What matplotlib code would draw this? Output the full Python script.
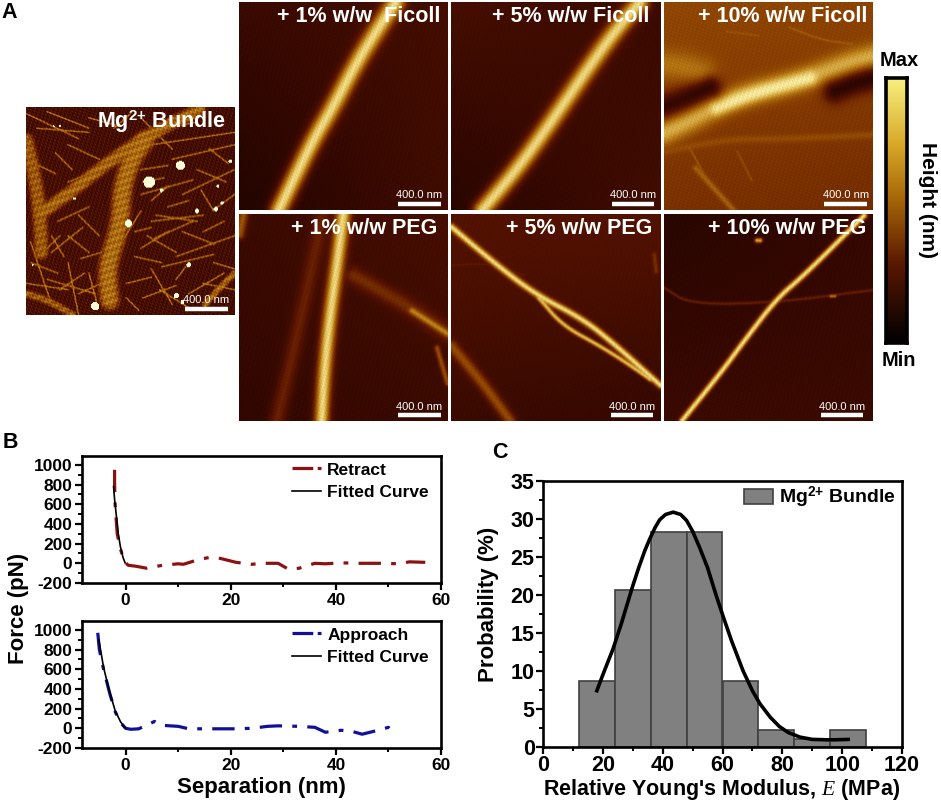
import numpy as np
import matplotlib
matplotlib.use("Agg")
import matplotlib.pyplot as plt
from matplotlib.colors import LinearSegmentedColormap
from matplotlib.lines import Line2D
from matplotlib.patches import Patch

plt.rcParams['font.family'] = ['Liberation Sans', 'DejaVu Sans']
plt.rcParams['font.weight'] = 'bold'
plt.rcParams['axes.unicode_minus'] = False
plt.rcParams['mathtext.fontset'] = 'custom'
plt.rcParams['mathtext.bf'] = 'Liberation Sans:bold'
plt.rcParams['mathtext.rm'] = 'Liberation Sans:bold'
plt.rcParams['mathtext.it'] = 'Liberation Serif:italic:normal'

W, H = 941, 802

# force curves
retract_x = [-2.1, -2.1, -2.0, -1.6, -1.0, -0.3, 0.5, 2, 4, 7, 10, 11, 14, 16, 18, 21, 24, 26, 29, 31, 33, 36, 38, 41, 44, 46, 49, 52, 54, 57]
retract_y = [950, 800, 600, 300, 150, 20, -20, -30, -50, -20, -5, -10, 40, 60, 50, 10, -10, 0, 0, -60, -50, 0, -5, 5, 0, 0, 0, -5, 15, 10]
retract_fit_x = [-2.3, -2.1, -1.8, -1.4, -1.0, -0.5, -0.1]
retract_fit_y = [780, 650, 500, 300, 170, 60, 5]
approach_x = [-5.3, -5.0, -4.2, -3.0, -2.0, -1.0, 0, 1, 2.5, 5.5, 7, 10, 12, 15, 18, 21, 24, 27, 29, 33, 36, 38, 41, 43, 45, 48, 50, 50.5]
approach_y = [970, 800, 600, 350, 170, 60, 0, -10, -5, 70, 30, 20, -5, -5, -5, -5, 0, 20, 25, 20, 10, -40, -20, -30, -60, -20, 10, -20]
approach_fit_x = [-5.1, -4.2, -3.2, -2.0, -1.0, -0.3, 0]
approach_fit_y = [900, 620, 400, 180, 70, 15, 0]

# histogram, panel C
bin_left = [12, 24, 36, 48, 60, 72, 84, 96]
bin_prob = [8.7, 20.7, 28.3, 28.3, 8.7, 2.2, 1.1, 2.2]
curve_x = [18, 20, 23.4, 26, 28, 30, 32, 34, 35.7, 37.5, 39, 41, 43.5, 46, 48, 50, 52.4, 55, 58, 60.2, 63, 66.9, 70, 72.5, 76, 79, 82, 85.9, 90, 94.8, 98, 102]
curve_y = [7.4, 9.5, 12.9, 16, 18.6, 21.2, 23.6, 25.8, 27.4, 28.9, 29.9, 30.6, 30.9, 30.6, 29.8, 28.4, 26.2, 23.6, 19.8, 17.2, 14, 10, 7.4, 5.7, 3.9, 2.7, 1.9, 1.3, 1.0, 0.95, 0.95, 1.0]

# AFM panels: titles
panel_titles = ["+ 1% w/w  Ficoll", "+ 5% w/w Ficoll", "+ 10% w/w Ficoll", "+ 1% w/w PEG", "+ 5% w/w PEG", "+ 10% w/w PEG"]

# fibres as (points from top left of panel, sigma, height)
ficoll1_fibres = [([(.19, 1), (.26, .856), (.355, .664), (.45, .504), (.56, .296), (.66, .136), (.75, 0)], .043, .88)]
ficoll5_fibres = [([(.15, 1), (.31, .81), (.44, .63), (.55, .47), (.68, .28), (.79, .13), (.9, 0)], .043, .87)]
ficoll10_fibres = [
    ([(0, .63), (.125, .57), (.25, .50), (.41, .44), (.57, .40), (.73, .35), (.89, .29), (1, .26)], .055, .76),
    ([(.25, .51), (.41, .445), (.57, .40), (.7, .365)], .032, .92),
    ([(0, .3), (.1, .31), (.18, .34)], .07, .6),
    ([(.15, .80), (.24, .90), (.33, 1)], .014, .54),
    ([(.0, .72), (.3, .66), (.55, .66), (1, .64)], .018, .48),
    ([(.6, .12), (.75, .18), (.9, .2)], .006, .52),
    ([(.3, .14), (.45, .16)], .006, .5),
    ([(.12, .7), (.2, .85)], .006, .5),
    ([(.35, .72), (.42, .86)], .006, .47),
]
ficoll10_dark = [([(0, .5), (.08, .47), (.22, .41)], .055, .18), ([(.82, .43), (.92, .39), (1, .37)], .055, .16)]
peg1_fibres = [
    ([(.395, 1), (.41, .74), (.435, .5), (.467, .26), (.5, 0)], .034, .87),
    ([(.18, 1), (.26, .66), (.37, .16), (.4, 0)], .038, .34),
    ([(.55, .30), (.83, .46), (1, .58)], .04, .38),
    ([(.83, .47), (1, .58)], .014, .64),
    ([(.95, .65), (1, .82)], .014, .48),
    ([(.0, .1), (.02, 0)], .025, .5),
]
peg5_fibres = [
    ([(0, .065), (.2, .235), (.4, .39), (.63, .51), (.79, .64), (1, .83)], .016, .88),
    ([(.42, .41), (.53, .54), (.71, .64), (.82, .71), (.95, .80)], .011, .8),
    ([(0, .64), (.15, .82), (.28, 1)], .028, .48),
    ([(0, .25), (.2, .24), (.35, .3)], .004, .32),
    ([(.97, .2), (.98, .28)], .012, .38),
]
peg10_fibres = [
    ([(.085, 1), (.27, .77), (.38, .62), (.54, .41), (.67, .30), (.96, .01)], .015, .88),
    ([(0, .36), (.125, .44), (.54, .43), (1, .37)], .007, .34),
    ([(.445, .13), (.46, .13)], .012, .72),
    ([(.80, .40), (.82, .40)], .007, .6),
]
bundle_thick = [
    ([(.40, .93), (.385, .77), (.45, .575), (.46, .38), (.51, .24), (.57, .16)], .048, .58),
    ([(.07, .51), (.225, .40), (.385, .27), (.575, .14), (.83, .01)], .032, .56),
    ([(0, .16), (.05, .38), (.07, .61), (.07, .7)], .035, .52),
    ([(.86, .95), (.93, .87), (1, .8)], .016, .56),
    ([(0, .9), (.1, .93), (.22, 1)], .018, .52),
]
bundle_thin = [
    ((.2, .75), (.25, 1)), ((.12, .7), (.27, .58)), ((.25, .52), (.35, .62)), ((.55, .42), (.8, .35)),
    ((.6, .55), (.85, .52)), ((.62, .52), (.82, .55)), ((.72, .72), (1, .62)), ((.62, .63), (.8, .55)),
    ((.65, .77), (.9, .71)), ((.72, .83), (.78, .75)), ((.55, .68), (.68, .6)), ((.1, .83), (.33, .9)),
    ((.2, .62), (.3, .7)), ((.0, .03), (.25, .15)), ((.1, .02), (.3, .1)), ((.55, .05), (.7, .2)),
    ((.6, .18), (1, .12)), ((.7, .25), (1, .18)), ((.75, .42), (1, .3)), ((.05, .1), (.3, .12)),
    ((.2, .18), (.35, .25)), ((.02, .75), (.15, .8)), ((.0, .85), (.2, .88)), ((.48, .85), (.6, .82)),
    ((.52, .72), (.65, .75)), ((.85, .85), (1, .88)), ((.55, .3), (.68, .28)), ((.56, .92), (.72, .86)),
    ((.18, .4), (.1, .48)), ((.3, .8), (.34, .95)), ((.92, .48), (1, .42)), ((.44, .68), (.55, .5)),
    ((.15, .55), (.3, .48)), ((.58, .62), (.72, .7)), ((.6, .45), (.68, .38)), ((.75, .6), (.9, .66)),
    ((.82, .3), (.96, .36)), ((.02, .65), (.12, .95)), ((.16, .88), (.28, .8)), ((.48, .92), (.54, .98)),
    ((.6, .78), (.7, .95)), ((.85, .6), (.95, .55)), ((.3, .05), (.45, .09)), ((.42, .1), (.5, .03)),
    ((.14, .22), (.22, .3)), ((.3, .32), (.2, .36)), ((.9, .75), (1, .78)), ((.78, .9), (.95, .8)),
    ((.56, .36), (.66, .34)), ((.68, .48), (.78, .45)), ((.12, .62), (.18, .72)), ((.25, .9), (.38, .84)),
    ((.52, .6), (.6, .58)), ((.88, .2), (.97, .27)), ((.64, .88), (.8, .98)), ((.14, .32), (.04, .27)),
    ((.68, .1), (.82, .07)), ((.16, .62), (.06, .72)), ((.26, .73), (.36, .7)), ((.84, .4), (.9, .5)),
]
bundle_dots = [(.74, .28), (.59, .36), (.65, .4), (.49, .56), (.33, .96), (.91, .06), (.13, .09), (.16, .09), (.82, .5),
               (.91, .49), (.94, .46), (.78, .76), (.72, .91), (.75, .94), (.03, .76), (.23, .44), (.98, .26), (.92, .38)]
bundle_dot_size = [.022, .028, .009, .018, .02, .005, .005, .005, .011, .011, .008, .011, .013, .009, .005, .007, .009, .007]

# colours picked from the height scale
afm_stops = [(0, '#000000'), (.18, '#340800'), (.3, '#5a1400'), (.45, '#8a4000'), (.62, '#b87a14'), (.8, '#e0bc58'), (.92, '#f6e89a'), (1, '#ffffd8')]
afm_cmap = LinearSegmentedColormap.from_list('afm', afm_stops)
scale_stops = [(0, '#000000'), (.3, '#5a1800'), (.55, '#a86808'), (.75, '#d8a828'), (1, '#f8f080')]
scale_cmap = LinearSegmentedColormap.from_list('scale', scale_stops)


def px_axes(fig, left, top, right, bottom):
    return fig.add_axes([left / W, 1 - bottom / H, (right - left) / W, (bottom - top) / H])


def round_path(pts, passes=3):
    # corner cutting so the fibres do not show kinks
    pts = np.array(pts, dtype=float)
    for _ in range(passes if len(pts) > 2 else 0):
        q = .75 * pts[:-1] + .25 * pts[1:]
        r = .25 * pts[:-1] + .75 * pts[1:]
        mid = np.empty((2 * len(q), 2))
        mid[0::2] = q
        mid[1::2] = r
        pts = np.vstack([pts[:1], mid, pts[-1:]])
    return pts


def dist_to_path(xx, yy, pts):
    pts = round_path(pts)
    best = np.full(xx.shape, 1e9)
    for a, b in zip(pts[:-1], pts[1:]):
        d = b - a
        t = np.clip(((xx - a[0]) * d[0] + (yy - a[1]) * d[1]) / (d @ d), 0, 1)
        best = np.minimum(best, np.hypot(xx - a[0] - t * d[0], yy - a[1] - t * d[1]))
    return best


def grain(xx, yy):
    return np.sin(317 * xx + 91 * yy) + np.sin(-143 * xx + 411 * yy) + np.sin(509 * xx - 233 * yy)


def height_map(fibres, corners, dark=None, n=209, power=2, texture=.006):
    xx, yy = np.meshgrid(np.linspace(0, 1, n), np.linspace(0, 1, n))
    # slow drift of the substrate, top left / top right / bottom left / bottom right
    z = (corners[0] * (1 - xx) * (1 - yy) + corners[1] * xx * (1 - yy)
         + corners[2] * (1 - xx) * yy + corners[3] * xx * yy)
    for pts, sigma, top in fibres:
        d = dist_to_path(xx, yy, pts)
        z = np.maximum(z, z + (top - z) * np.exp(-(d / sigma) ** power))
    if dark is not None:
        for pts, sigma, top in dark:
            d = dist_to_path(xx, yy, pts)
            z = z + (top - z) * np.exp(-(d / sigma) ** 2)
    # fibres look rougher than the substrate
    return z + texture * grain(xx, yy) * (1 + 3 * np.clip(z - .3, 0, 1))


def bundle_map(n=209):
    xx, yy = np.meshgrid(np.linspace(0, 1, n), np.linspace(0, 1, n))
    z = height_map(bundle_thick, (.24, .23, .25, .23), power=4, texture=0)
    # cross banding of the bundles
    z = z + .05 * np.sin(190 * yy + 60 * xx) * (z > .4)
    thin = height_map([(list(s), .0065, .58) for s in bundle_thin], (0, 0, 0, 0), texture=0)
    z = np.maximum(z, thin)
    # fine grain of the substrate
    z = z + .038 * grain(xx, yy)
    for c, r in zip(bundle_dots, bundle_dot_size):
        z[np.hypot(xx - c[0], yy - c[1]) < r] = 1.0
    return z


def afm_panel(fig, box, z, title, title_x, bar):
    ax = px_axes(fig, *box)
    ax.imshow(z, cmap=afm_cmap, vmin=0, vmax=1, extent=[0, 1, 0, 1], aspect='auto', interpolation='bilinear')
    ax.set_xticks([])
    ax.set_yticks([])
    for s in ax.spines.values():
        s.set_visible(False)
    ax.text(title_x, .928, title, color='white', fontsize=15.5, ha='right', va='center', transform=ax.transAxes)
    ax.plot(bar, [.027, .027], color='white', lw=3.2, solid_capstyle='butt', transform=ax.transAxes)
    ax.text(sum(bar) / 2, .07, "400.0 nm", color='white', fontsize=8, fontweight='normal', ha='center', va='center',
            transform=ax.transAxes)
    return ax


def force_panel(fig, box, x, y, fit_x, fit_y, color, name):
    ax = px_axes(fig, *box)
    ax.plot(x, y, color=color, lw=2.3, ls=(0, (7, 3.2, 1.5, 3.2)))
    ax.plot(fit_x, fit_y, color='black', lw=1.2)
    ax.set_xlim(-8.3, 60)
    ax.set_ylim(-200, 1090)
    ax.set_xticks([0, 20, 40, 60])
    ax.set_xticks([10, 30, 50], minor=True)
    ax.set_yticks(range(-200, 1001, 200))
    ax.set_yticks(range(-100, 1001, 200), minor=True)
    ax.tick_params(axis='both', which='major', labelsize=12.5, width=1.6, length=5, pad=2)
    ax.tick_params(axis='both', which='minor', width=1.4, length=3)
    for s in ax.spines.values():
        s.set_linewidth(1.9)
    handles = [Line2D([], [], color=color, lw=2.3, ls=(0, (6.5, 1.4, 1.3, 1.4))), Line2D([], [], color='black', lw=1.2)]
    ax.legend(handles, [name, "Fitted Curve"], frameon=False, fontsize=12.5, loc='upper left', borderpad=0, borderaxespad=0,
              bbox_to_anchor=(.585, .95), handlelength=1.67, handletextpad=.35, labelspacing=.42)
    return ax


fig = plt.figure(figsize=(W / 100, H / 100), dpi=100)

col_x = [(239, 448), (451, 661), (664, 872)]
row_y = [(2, 210), (214, 421)]

afm_panel(fig, (26, 107, 235, 315), bundle_map(), "Mg$^{2{+}}$ Bundle", .957, (.76, .967))

afm_panel(fig, (col_x[0][0], row_y[0][0], col_x[0][1], row_y[0][1]),
          height_map(ficoll1_fibres, (.2, .23, .12, .22)), panel_titles[0], .962, (.76, .966))
afm_panel(fig, (col_x[1][0], row_y[0][0], col_x[1][1], row_y[0][1]),
          height_map(ficoll5_fibres, (.24, .2, .14, .22)), panel_titles[1], .943, (.767, .967))
afm_panel(fig, (col_x[2][0], row_y[0][0], col_x[2][1], row_y[0][1]),
          height_map(ficoll10_fibres, (.47, .46, .4, .38), dark=ficoll10_dark), panel_titles[2], .976, (.77, .976))
afm_panel(fig, (col_x[0][0], row_y[1][0], col_x[0][1], row_y[1][1]),
          height_map(peg1_fibres, (.2, .24, .17, .2)), panel_titles[3], .947, (.76, .967))
afm_panel(fig, (col_x[1][0], row_y[1][0], col_x[1][1], row_y[1][1]),
          height_map(peg5_fibres, (.28, .28, .2, .18)), panel_titles[4], .957, (.762, .962))
afm_panel(fig, (col_x[2][0], row_y[1][0], col_x[2][1], row_y[1][1]),
          height_map(peg10_fibres, (.14, .18, .2, .2)), panel_titles[5], .971, (.755, .957))

# height scale
cax = px_axes(fig, 886, 78, 907, 343)
cax.imshow(np.linspace(1, 0, 256)[:, None], cmap=scale_cmap, vmin=0, vmax=1, aspect='auto')
cax.set_xticks([])
cax.set_yticks([])
for s in cax.spines.values():
    s.set_linewidth(2.6)

fig.text(899 / W, 1 - 61 / H, "Max", fontsize=14.5, ha='center', va='center')
fig.text(899 / W, 1 - 361 / H, "Min", fontsize=14.5, ha='center', va='center')
fig.text(928 / W, 1 - 200 / H, "Height (nm)", fontsize=15, rotation=270, ha='center', va='center')

fig.text(9 / W, 1 - 12 / H, "A", fontsize=15.5, ha='center', va='center')
fig.text(10 / W, 1 - 443 / H, "B", fontsize=15.5, ha='center', va='center')
fig.text(500 / W, 1 - 452 / H, "C", fontsize=15.5, ha='center', va='center')

# panel B
force_panel(fig, (82, 456, 441, 583), retract_x, retract_y, retract_fit_x, retract_fit_y, '#8c1212', "Retract")
force_panel(fig, (82, 621, 441, 748), approach_x, approach_y, approach_fit_x, approach_fit_y, '#10109a', "Approach")
fig.text(19 / W, 1 - 608 / H, "Force (pN)", fontsize=16, rotation=90, ha='center', va='center')
fig.text(261 / W, 1 - 787 / H, "Separation (nm)", fontsize=16, ha='center', va='center')

# panel C
ax = px_axes(fig, 543, 481, 902, 747)
ax.bar(bin_left, bin_prob, width=12, align='edge', color='#808080', edgecolor='#404040', linewidth=1.2)
ax.plot(curve_x, curve_y, color='black', lw=2.6)
ax.set_xlim(0, 120)
ax.set_ylim(0, 35)
ax.set_xticks(range(0, 121, 20))
ax.set_xticks(range(10, 120, 20), minor=True)
ax.set_yticks(range(0, 36, 5))
ax.set_yticks(np.arange(2.5, 35, 5), minor=True)
ax.tick_params(axis='both', which='major', labelsize=15.5, width=1.6, length=5, pad=1)
ax.tick_params(axis='both', which='minor', width=1.4, length=3)
for s in ax.spines.values():
    s.set_linewidth(1.9)
fig.text(722 / W, 1 - 790 / H, "Relative Young's Modulus, $\\mathit{E}$ (MPa)", fontsize=15.5, ha='center', va='center')
fig.text(488 / W, 1 - 604 / H, "Probability (%)", fontsize=16, rotation=90, ha='center', va='center')
ax.legend([Patch(facecolor='#808080', edgecolor='#404040', linewidth=1.2)], ["Mg$^{2{+}}$ Bundle"], frameon=False,
          fontsize=14, loc='upper left', bbox_to_anchor=(.56, .985), borderpad=0, borderaxespad=0,
          handlelength=1.5, handleheight=.8, handletextpad=.3)

fig.savefig("out.png", dpi=100)
